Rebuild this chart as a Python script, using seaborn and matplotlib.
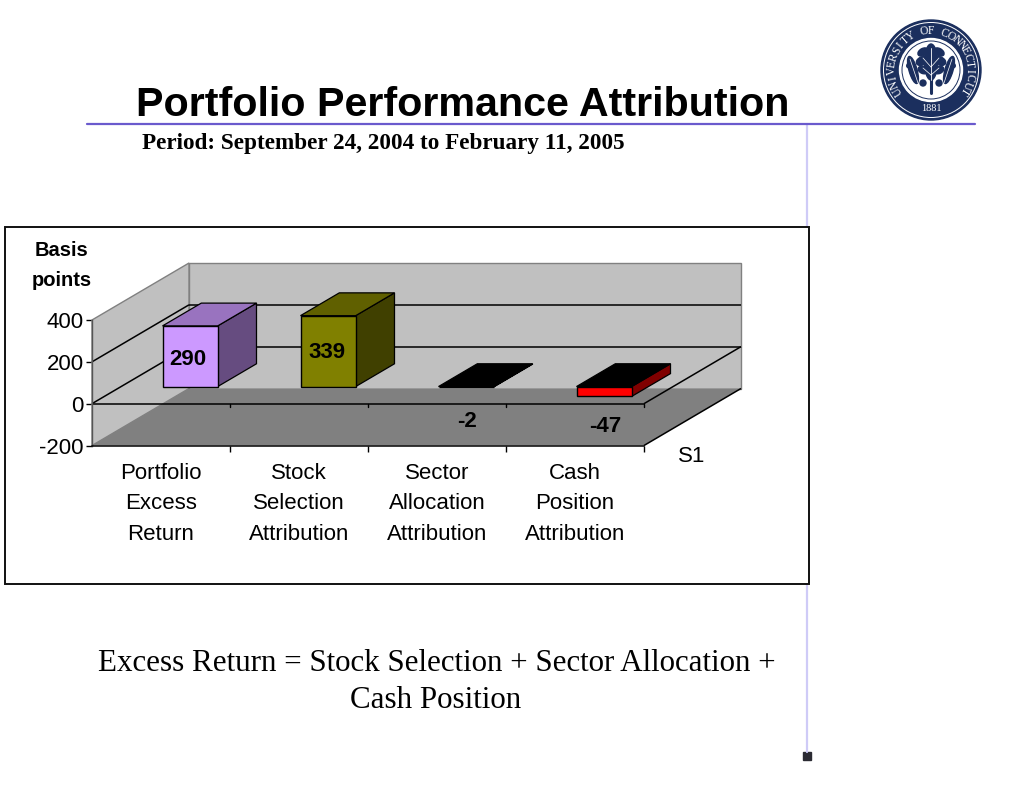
import numpy as np
import pandas as pd
import seaborn as sns
import matplotlib
matplotlib.use("Agg")
import matplotlib.pyplot as plt
from matplotlib.patches import Polygon, Rectangle, Circle, Ellipse

# values
categories = ["Portfolio\nExcess\nReturn", "Stock\nSelection\nAttribution",
              "Sector\nAllocation\nAttribution", "Cash\nPosition\nAttribution"]
values = [290, 339, -2, -47]
y_ticks = [-200, 0, 200, 400]

front_colors = ["#CC99FF", "#808000", "#000000", "#FF0000"]
side_colors = ["#664C80", "#404000", "#000000", "#800000"]
top_colors = ["#9973BF", "#606000", "#000000", "#000000"]

NAVY = "#1B2F5E"
LINE = "#6A5ACD"

sns.set_style("white")
plt.rcParams["font.family"] = ["Liberation Sans", "DejaVu Sans"]
plt.rcParams["axes.unicode_minus"] = False
plt.rcParams["text.color"] = "black"
plt.rcParams["xtick.color"] = "black"
plt.rcParams["ytick.color"] = "black"

fig = plt.figure(figsize=(10.24, 7.91), dpi=100)

# slide background in pixel coordinates
bg = fig.add_axes([0, 0, 1, 1])
bg.set_xlim(0, 1024)
bg.set_ylim(791, 0)
bg.axis("off")

bg.plot([807, 807], [124, 752], color="#CFCBF7", lw=1.6)
bg.plot([87, 975], [124, 124], color=LINE, lw=1.6)
bg.add_patch(Rectangle((803, 752), 8, 8, color="#2B2B33"))

bg.text(136, 116, "Portfolio Performance Attribution", fontsize=29.7, fontweight="bold",
        ha="left", va="baseline")
bg.text(142, 149, "Period: September 24, 2004 to February 11, 2005", fontsize=16.7,
        fontweight="bold", family="Liberation Serif", ha="left", va="baseline")
bg.text(436.5, 671, "Excess Return = Stock Selection + Sector Allocation +", fontsize=22.3,
        family="Liberation Serif", ha="center", va="baseline")
bg.text(436, 708, "Cash Position", fontsize=22.3, family="Liberation Serif",
        ha="center", va="baseline")

# chart frame
bg.add_patch(Rectangle((5, 227), 804, 357, facecolor="white", edgecolor="#111111", lw=1.4, zorder=3))
bg.text(62, 250, "Basis", fontsize=14.5, fontweight="bold", ha="center", va="center", zorder=4)
bg.text(62, 281, "points", fontsize=14.5, fontweight="bold", ha="center", va="center", zorder=4)

# university seal
cx, cy = 931, 70
bg.add_patch(Circle((cx, cy), 50, color=NAVY))
bg.add_patch(Circle((cx, cy), 47.5, fill=False, edgecolor="white", lw=0.7))
bg.add_patch(Circle((cx, cy), 31.5, color="white"))
bg.add_patch(Circle((cx, cy), 29, fill=False, edgecolor=NAVY, lw=0.7))
seal_text = "UNIVERSITY OF CONNECTICUT"
for ch, ang in zip(seal_text, np.linspace(-122, 122, len(seal_text))):
    r = np.radians(ang)
    bg.text(cx + 39 * np.sin(r), cy - 39 * np.cos(r), ch, color="white", fontsize=8.3,
            family="Liberation Serif", rotation=-ang, ha="center", va="center",
            rotation_mode="anchor")
bg.text(cx, cy + 38.5, "1881", color="white", fontsize=7.5, family="Liberation Serif",
        ha="center", va="center")
# oak leaves
leaves = [(0, -8, 13, 36, 0),
          (-8, -18, 11, 7, -30), (8, -18, 11, 7, 30),
          (-9, -9, 12, 8, -25), (9, -9, 12, 8, 25),
          (-8, 0, 10, 7, 25), (8, 0, 10, 7, -25),
          (-18, 0, 8, 28, -16), (18, 0, 8, 28, 16),
          (-21, -5, 7, 5, -30), (21, -5, 7, 5, 30),
          (-17, 5, 7, 5, 30), (17, 5, 7, 5, -30),
          (-8, 13, 6, 6, 0), (8, 13, 6, 6, 0)]
for dx, dy, w, h, a in leaves:
    bg.add_patch(Ellipse((cx + dx, cy + dy), w, h, angle=a, color=NAVY))
bg.plot([cx, cx], [cy - 10, cy + 23], color=NAVY, lw=2.2)
bg.plot([cx, cx], [cy - 22, cy + 10], color="white", lw=0.6)
for sx in (-1, 1):
    bg.plot([cx + sx * 21, cx + sx * 13], [cy - 11, cy + 13], color="white", lw=0.5)
    bg.plot([cx, cx + sx * 8], [cy - 3, cy - 12], color="white", lw=0.5)
    bg.plot([cx, cx + sx * 8], [cy + 5, cy - 2], color="white", lw=0.5)

# chart axes, its box is the front plane of the 3D chart
left, right, top, bottom = 92, 644, 320, 445.5
ax = fig.add_axes([left / 1024, 1 - bottom / 791, (right - left) / 1024, (bottom - top) / 791])
ax.patch.set_alpha(0)

df = pd.DataFrame({"category": categories, "value": values})
sns.barplot(data=df, x="category", y="value", hue="category", palette=front_colors,
            width=0.4, saturation=1, legend=False, edgecolor="black", linewidth=1, ax=ax)

ax.set_xlim(-0.5, 3.5)
ax.set_ylim(-200, 400)

# depth of the chart box in data units
DX = 97 / 138
DY = 57 / (125.5 / 600)


def proj(x, v, d):
    return (x + d * DX, v + d * DY)


def poly(points, **kw):
    p = Polygon(points, closed=True, clip_on=False, **kw)
    ax.add_patch(p)
    return p


def seg(x0, v0, d0, x1, v1, d1, **kw):
    a = proj(x0, v0, d0)
    b = proj(x1, v1, d1)
    kw.setdefault("color", "black")
    kw.setdefault("lw", 1.1)
    ax.plot([a[0], b[0]], [a[1], b[1]], clip_on=False, solid_capstyle="butt", **kw)


x0, x1 = ax.get_xlim()
vmin, vmax = ax.get_ylim()

# walls and floor
poly([proj(x0, vmin, 1), proj(x1, vmin, 1), proj(x1, vmax, 1), proj(x0, vmax, 1)],
     facecolor="#C0C0C0", edgecolor="#808080", lw=1, zorder=0.5)
poly([proj(x0, vmin, 0), proj(x0, vmin, 1), proj(x0, vmax, 1), proj(x0, vmax, 0)],
     facecolor="#C0C0C0", edgecolor="#808080", lw=1, zorder=0.6)
poly([proj(x0, vmin, 0), proj(x1, vmin, 0), proj(x1, vmin, 1), proj(x0, vmin, 1)],
     facecolor="#808080", edgecolor="none", zorder=0.7)

# gridlines on the walls
for v in y_ticks[1:-1]:
    seg(x0, v, 0, x0, v, 1, zorder=0.8)
    seg(x0, v, 1, x1, v, 1, zorder=0.8)
seg(x0, 0, 0, x1, 0, 0, zorder=0.9)
seg(x1, 0, 0, x1, 0, 1, zorder=0.9)
seg(x1, vmin, 0, x1, vmin, 1, zorder=0.9)
for t in np.arange(x0 + 1, x1 + 1):
    a = proj(t, 0, 0)
    ax.plot([a[0], a[0]], [0, -15], color="black", lw=1, zorder=0.9, clip_on=False)

# move the seaborn bars into the box and give them depth
d_front, d_back = 0.3, 0.7
label_offsets = [(-1.5, -2), (-1, -1), (1, -24.5), (1, -22)]
for i, bar in enumerate(ax.patches[:len(values)]):
    bx, bw = bar.get_x(), bar.get_width()
    v = values[i]
    low, high = min(v, 0), max(v, 0)
    bar.set_x(bx + d_front * DX)
    bar.set_y(bar.get_y() + d_front * DY)
    bar.set_clip_on(False)
    bar.set_zorder(3)
    poly([proj(bx + bw, low, d_front), proj(bx + bw, low, d_back),
          proj(bx + bw, high, d_back), proj(bx + bw, high, d_front)],
         facecolor=side_colors[i], edgecolor="black", lw=0.9, zorder=2.5)
    poly([proj(bx, high, d_front), proj(bx + bw, high, d_front),
          proj(bx + bw, high, d_back), proj(bx, high, d_back)],
         facecolor=top_colors[i], edgecolor="black", lw=0.9, zorder=2.5)

    if v > 0:
        lx, ly = proj(bx + bw / 2, v / 2, d_front)
    else:
        lx, ly = proj(bx + bw / 2, v, d_front)
    ax.annotate(str(v), (lx, ly), xytext=label_offsets[i], textcoords="offset points", ha="center",
                va="center", fontsize=16, fontweight="bold", zorder=5, annotation_clip=False)

# axis cosmetics
sns.despine(ax=ax, top=True, right=True)
ax.spines["left"].set_color("#555555")
ax.spines["left"].set_linewidth(1)
ax.spines["bottom"].set_color("black")
ax.spines["bottom"].set_linewidth(1.1)
ax.set_yticks(y_ticks)
ax.set_xticks(np.arange(x0 + 1, x1 + 1))
ax.set_xticklabels([])
ax.set_xticks(range(len(categories)), labels=categories, minor=True)
ax.set_xlabel("")
ax.set_ylabel("")
ax.tick_params(axis="y", which="major", left=True, length=4, width=1, color="black", labelsize=16, pad=2)
ax.tick_params(axis="x", which="major", bottom=True, length=4, width=1, color="black")
ax.tick_params(axis="x", which="minor", bottom=False, length=0, labelsize=16, pad=12.5)
for lab in ax.get_xticklabels(minor=True):
    lab.set_linespacing(1.6)

fig.text(692 / 1024, 1 - 457 / 791, "S1", fontsize=16, ha="center", va="center")

fig.savefig("out.png", dpi=100)
